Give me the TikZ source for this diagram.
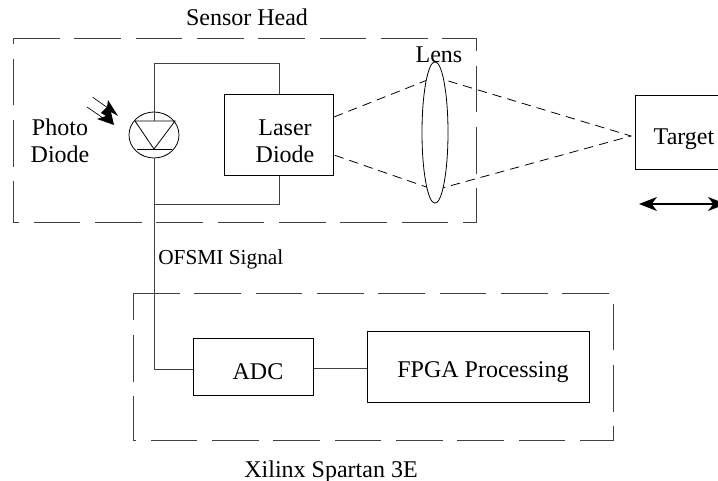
\documentclass[tikz,border=0pt]{standalone}
\usepackage{fontspec}
\setmainfont{Liberation Serif}
\usetikzlibrary{arrows.meta,shapes.geometric}

\tikzset{
  blockbox/.style={draw, line width=0.6pt, rectangle, inner sep=0pt},
  groupbox/.style={draw=black!75, line width=0.7pt, dash pattern={on 35pt off 11pt}},
  wire/.style={draw=black!75, line width=0.7pt},
  beam/.style={line width=0.6pt, dash pattern={on 7pt off 4.5pt}},
  textlbl/.style={inner sep=0pt, anchor=base, font=\fontsize{18}{20}\selectfont, align=center}
}

\begin{document}
\begin{tikzpicture}[x=0.75pt,y=0.75pt,yscale=-1,xscale=1]
\useasboundingbox (0,0) rectangle (718,481);

%Dashed group boxes
\draw [groupbox] (13,38) -- (476,38) -- (476,222) -- (13,222) -- cycle;
\draw [groupbox] (133,293) -- (613,293) -- (613,440) -- (133,440) -- cycle;

%Beam lines
\coordinate (lensTop) at (435,77);
\coordinate (lensBot) at (435,190);
\coordinate (focus) at (631,136);
\draw [beam] (334,117) -- (lensTop) -- (focus) -- (lensBot) -- (334,155);

% Blocks
\node (laser) [blockbox, minimum width=82pt, minimum height=60.75pt, anchor=north west] at (224,94) {};
\node (adc) [blockbox, minimum width=90pt, minimum height=42.75pt, anchor=north west] at (193,338) {};
\node (fpga) [blockbox, minimum width=166.5pt, minimum height=53.25pt, anchor=north west] at (367,331) {};
\node (target) [blockbox, minimum width=65pt, minimum height=55.5pt, anchor=north west] at (635,95) {};
\node (lens) [draw, fill=white, ellipse, line width=0.6pt, inner sep=0pt, minimum width=19.5pt, minimum height=106pt] at (435,132.5) {};
\node (pd) [draw, ellipse, line width=0.6pt, inner sep=0pt, minimum width=37.5pt, minimum height=34.5pt] at (154,135) {};

%Diode symbol
\coordinate (triL) at (135,121);
\coordinate (triR) at (175,121);
\coordinate (triA) at (154,149);
\draw [line width=0.6pt] (triL) -- (triR) -- (triA) -- cycle;
\draw [line width=0.6pt] (137,149) -- (172,149);

%Wires
\coordinate (wireTop) at (154,63);
\coordinate (wireBot) at (154,204);
\draw [wire] (triA |- triL) -- (wireTop) -| (laser.north);
\draw [wire] (laser.south) |- (wireBot);
\draw [wire] (pd.south) -- (154,369) -- (adc.west |- 0,369);
\draw [wire] (adc.east |- 0,368) -- (fpga.west |- 0,368);

%Light
\draw [line width=0.5pt] (92.7,97.3) -- (108,108);
\draw [line width=0.5pt] (87,107) -- (103,118);
\fill (108,100) -- (118,116) -- (111,112) -- (114,125) -- (97,119) -- (106,116) -- (101,113) -- (107,107) -- cycle;

%Target arrow
\coordinate (moveL) at (639,204);
\coordinate (moveR) at (726,204);
\draw [line width=0.9pt, {Stealth[length=13.5pt,width=10.5pt,inset=4pt]}-{Stealth[length=13.5pt,width=10.5pt,inset=4pt]}] (moveL) -- (moveR);

% Text Node
\node (sensorlbl) [textlbl] at (247,26) {Sensor Head};
\node (photolbl) [textlbl] at (60,136) {Photo};
\node (diodelbl) [textlbl] at (60,163) {Diode};
\node (laserlbl) [textlbl] at (285,136) {Laser};
\node (laserlbl2) [textlbl] at (285,163) {Diode};
\node (lenslbl) [textlbl] at (439,63) {Lens};
\node (targetlbl) [textlbl] at (684,145) {Target};
\node (signallbl) [textlbl, anchor=base west, font=\fontsize{16}{18}\selectfont] at (158,265) {OFSMI Signal};
\node (adclbl) [textlbl] at (258,379) {ADC};
\node (fpgalbl) [textlbl] at (483,377) {FPGA Processing};
\node (xilinxlbl) [textlbl] at (331,477) {Xilinx Spartan 3E};
\end{tikzpicture}
\end{document}
